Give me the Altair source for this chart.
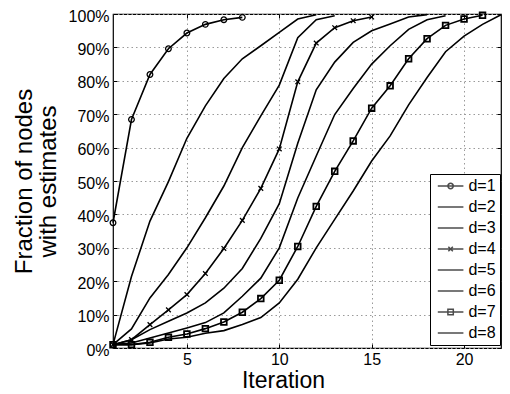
import altair as alt
import pandas as pd

labels = ["d=1", "d=2", "d=3", "d=4", "d=5", "d=6", "d=7", "d=8"]
d1 = [37.5, 68.4, 81.9, 89.6, 94.3, 96.9, 98.3, 99.0]
d2 = [1.0, 21.4, 38.0, 49.8, 62.8, 72.5, 80.7, 86.6, 90.5, 94.5, 98.5, 99.8]
d3 = [1.0, 5.7, 15.0, 22.0, 30.0, 39.0, 48.5, 60.0, 69.5, 78.7, 92.9, 98.3, 99.5]
d4 = [1.0, 2.5, 7.0, 11.4, 16.0, 22.3, 29.8, 38.2, 47.8, 59.6, 79.7, 91.3, 95.9, 98.0, 99.1]
d5 = [1.0, 2.5, 5.5, 8.0, 10.5, 13.5, 17.9, 23.8, 32.8, 43.2, 61.3, 77.3, 85.6, 91.5, 95.0, 97.0, 99.1, 99.8]
d6 = [1.0, 1.5, 3.0, 4.5, 6.0, 7.6, 10.5, 15.5, 20.9, 30.0, 44.9, 57.5, 69.9, 77.7, 85.0, 90.5, 95.4, 98.3, 99.5]
d7 = [1.0, 1.0, 1.7, 3.2, 4.2, 5.8, 7.8, 10.7, 14.8, 20.3, 30.4, 42.4, 52.9, 62.0, 71.8, 78.5, 86.6, 92.6, 96.6, 98.5, 99.6]
d8 = [1.0, 1.0, 1.5, 2.7, 3.2, 4.4, 5.2, 7.0, 9.1, 13.5, 20.6, 30.0, 38.5, 47.0, 56.0, 63.5, 72.8, 81.0, 88.7, 93.4, 96.9, 99.8]
series = [d1, d2, d3, d4, d5, d6, d7, d8]

x_ticks = [5, 10, 15, 20]
y_ticks = [0, 10, 20, 30, 40, 50, 60, 70, 80, 90, 100]

rows = []
for lab, vals in zip(labels, series):
    for i, v in enumerate(vals):
        rows.append({"d": lab, "it": i + 1, "frac": v})
df = pd.DataFrame(rows)

FONT = "Liberation Sans"
xs = alt.Scale(domain=[1, 22], nice=False, zero=False)
ys = alt.Scale(domain=[0, 100], nice=False, zero=False)

# legend symbol paths (line + marker)
leg_paths = [
    "M-2,0H2M-0.42,0A0.42,0.42 0 1,0 0.42,0A0.42,0.42 0 1,0 -0.42,0",
    "M-2,0H2",
    "M-2,0H2",
    "M-2,0H2M-0.35,-0.35L0.35,0.35M-0.35,0.35L0.35,-0.35",
    "M-2,0H2",
    "M-2,0H2",
    "M-2,0H2M-0.42,-0.42H0.42V0.42H-0.42Z",
    "M-2,0H2",
]

main_x_axis = alt.Axis(values=x_ticks, grid=True, ticks=False, tickSize=0, domain=False,
                       title="Iteration", labelPadding=3, titlePadding=2,
                       titleX=170, titleAlign="center", titleFontSize=23)
main_y_axis = alt.Axis(values=y_ticks, grid=True, ticks=False, tickSize=0, domain=False,
                       labelExpr="datum.value + '%'", labelPadding=4, labelOffset=2,
                       title=["Fraction of nodes", "with estimates"], titlePadding=8)

lines = alt.Chart(df).mark_line(color="black", strokeWidth=1.6).encode(
    x=alt.X("it:Q", scale=xs, axis=main_x_axis),
    y=alt.Y("frac:Q", scale=ys, axis=main_y_axis),
    detail="d:N",
)

def tick_axis(orient, vals):
    return alt.Axis(orient=orient, values=vals, grid=False, labels=False, domain=False,
                    ticks=True, tickSize=4, offset=-4, title=None, tickColor="black")

circles = alt.Chart(df[df.d == "d=1"]).mark_point(
    shape="circle", size=32, filled=False, color="black", strokeWidth=1.3, opacity=1
).encode(
    x=alt.X("it:Q", scale=xs, axis=tick_axis("bottom", x_ticks)),
    y=alt.Y("frac:Q", scale=ys, axis=tick_axis("left", y_ticks)),
)

crosses = alt.Chart(df[df.d == "d=4"]).mark_point(
    shape="M-1,-1L1,1M-1,1L1,-1", size=22, filled=False, color="black", strokeWidth=1.3, opacity=1
).encode(
    x=alt.X("it:Q", scale=xs, axis=tick_axis("top", x_ticks)),
    y=alt.Y("frac:Q", scale=ys, axis=tick_axis("right", y_ticks)),
)

squares = alt.Chart(df[df.d == "d=7"]).mark_point(
    shape="square", size=32, filled=False, color="black", strokeWidth=1.8, opacity=1
).encode(
    x=alt.X("it:Q", scale=xs, axis=None),
    y=alt.Y("frac:Q", scale=ys, axis=None),
)

carrier = alt.Chart(df).mark_point(size=0, filled=False, color="black", strokeWidth=1.5).encode(
    x=alt.X("it:Q", scale=xs, axis=None),
    y=alt.Y("frac:Q", scale=ys, axis=None),
    shape=alt.Shape("d:N", scale=alt.Scale(domain=labels, range=leg_paths),
                    legend=alt.Legend(title=None, orient="none", legendX=317, legendY=160,
                                      padding=4, rowPadding=5, symbolSize=164,
                                      symbolStrokeWidth=1.5, symbolStrokeColor="black",
                                      symbolFillColor="transparent", symbolOffset=8.6,
                                      labelOffset=9.8, labelFontSize=16, labelFont=FONT,
                                      labelColor="black", strokeColor="black",
                                      fillColor="white", labelLimit=0)),
)

chart = alt.layer(lines, circles, crosses, squares, carrier).resolve_axis(
    x="independent", y="independent"
).properties(
    width=388, height=334,
    padding={"left": 105, "top": 6, "right": 1, "bottom": 46},
    autosize=alt.AutoSizeParams(type="none"),
).configure_view(
    stroke="black", strokeWidth=1.2
).configure_axis(
    labelFont=FONT, labelFontSize=16, labelColor="black",
    titleFont=FONT, titleFontSize=24, titleColor="black", titleFontWeight="normal",
    gridColor="#9a9a9a", gridDash=[1.5, 3], gridWidth=1, gridOpacity=1,
    titleLineHeight=24,
)

chart.save("out.html", embed_options={"renderer": "svg", "actions": False})
